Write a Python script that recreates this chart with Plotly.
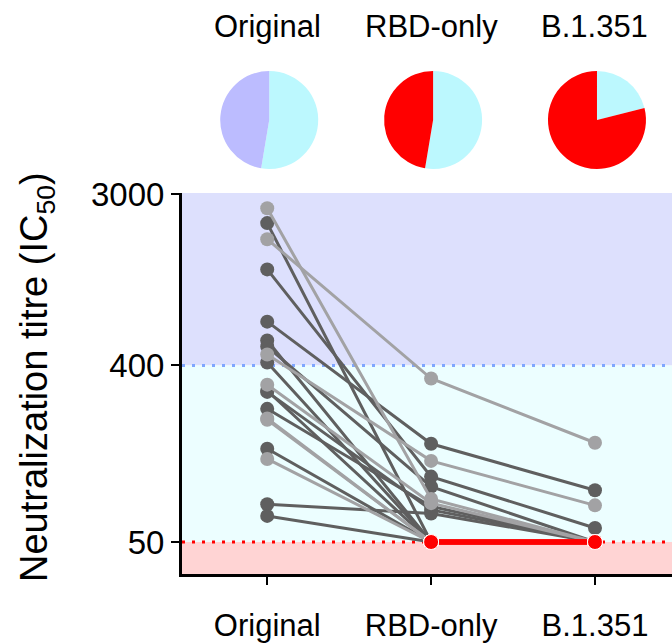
import math
import plotly.graph_objects as go

# ---------------- data ----------------
categories = ["Original", "RBD-only", "B.1.351"]
cat_pos = [0, 1, 2]

original = [2550, 2140, 1770, 1240, 670, 537, 500, 455, 414, 319, 297, 293, 240, 214, 211, 150, 133, 78, 68]
rbd_only = [83, 50, 343, 108, 159, 50, 96, 130, 50, 79, 50, 73, 76, 50, 50, 50, 50, 70, 50]
b1351 = [50, 50, 161, 59, 92, 50, 50, 77, 50, 50, 50, 50, 50, 50, 50, 50, 50, 50, 50]
shade = ["light", "dark", "light", "dark", "dark", "dark", "dark", "light", "dark", "light",
         "dark", "dark", "dark", "light", "light", "dark", "light", "dark", "dark"]

detect_limit = 50
high_cut = 400
y_ticks = [50, 400, 3000]

# ---------------- style ----------------
W, H = 672, 644
PL, PR, PT, PB = 182, 672, 193, 574
FONT = "Liberation Sans, Arial, Helvetica, sans-serif"
GREY = {"dark": "#5f5f5f", "light": "#a2a2a4"}
RED = "#ff0000"
LAV_BAND, CYAN_BAND, PINK_BAND = "#dde0fd", "#ecfeff", "#ffd4d4"
LAV_PIE, CYAN_PIE = "#bcbcff", "#bcf8fe"

x_range = [-0.52, 2.47]
y_lo, y_hi = math.log10(34.3), math.log10(3050)


def yfrac(v):
    return (math.log10(v) - y_lo) / (y_hi - y_lo)


def xpix(c):
    return PL + (c - x_range[0]) / (x_range[1] - x_range[0]) * (PR - PL)


fig = go.Figure()

series = [original, rbd_only, b1351]
n = len(original)

# grey subject lines (dark first, light on top)
for tone in ["dark", "light"]:
    for i in range(n):
        if shade[i] != tone:
            continue
        ys = [s[i] for s in series]
        fig.add_trace(go.Scatter(
            x=cat_pos, y=ys, mode="lines+markers",
            line=dict(color=GREY[tone], width=3),
            marker=dict(size=14, color=GREY[tone]),
            hoverinfo="skip", showlegend=False))

# red segments where both follow-up titres are at the detection limit
rx, ry = [], []
for i in range(n):
    for a in range(len(series) - 1):
        if series[a][i] <= detect_limit and series[a + 1][i] <= detect_limit:
            rx += [cat_pos[a], cat_pos[a + 1], None]
            ry += [series[a][i], series[a + 1][i], None]
fig.add_trace(go.Scatter(x=rx, y=ry, mode="lines", line=dict(color=RED, width=4.5),
                         hoverinfo="skip", showlegend=False))

# red markers at the detection limit
mx, my = [], []
for a, s in enumerate(series):
    for v in s:
        if v <= detect_limit:
            mx.append(cat_pos[a])
            my.append(v)
fig.add_trace(go.Scatter(x=mx, y=my, mode="markers",
                         marker=dict(size=15, color=RED, line=dict(color="white", width=1)),
                         hoverinfo="skip", showlegend=False))

# pies (share of subjects per band)
for a, s in enumerate(series):
    n_hi = sum(1 for v in s if v > high_cut)
    n_mid = sum(1 for v in s if detect_limit < v <= high_cut)
    n_lo = sum(1 for v in s if v <= detect_limit)
    cx = xpix(cat_pos[a]) + 2
    cy = 120
    r = 49
    fig.add_trace(go.Pie(
        values=[n_mid, n_hi, n_lo], labels=["mid", "high", "low"],
        marker=dict(colors=[CYAN_PIE, LAV_PIE, RED], line=dict(width=0)),
        sort=False, direction="clockwise", rotation=0,
        textinfo="none", hoverinfo="skip", showlegend=False,
        domain=dict(x=[(cx - r) / W, (cx + r) / W], y=[1 - (cy + r) / H, 1 - (cy - r) / H])))

# bands and dotted thresholds
shapes = [
    dict(type="rect", xref="x domain", yref="y domain", x0=0, x1=1, y0=yfrac(high_cut), y1=1,
         fillcolor=LAV_BAND, line=dict(width=0), layer="below"),
    dict(type="rect", xref="x domain", yref="y domain", x0=0, x1=1, y0=yfrac(detect_limit), y1=yfrac(high_cut),
         fillcolor=CYAN_BAND, line=dict(width=0), layer="below"),
    dict(type="rect", xref="x domain", yref="y domain", x0=0, x1=1, y0=0, y1=yfrac(detect_limit),
         fillcolor=PINK_BAND, line=dict(width=0), layer="below"),
    dict(type="line", xref="x domain", yref="y domain", x0=0, x1=1, y0=yfrac(high_cut), y1=yfrac(high_cut),
         line=dict(color="#7fa6ff", width=3, dash="3px,7px"), layer="below"),
    dict(type="line", xref="x domain", yref="y domain", x0=0, x1=1, y0=yfrac(detect_limit), y1=yfrac(detect_limit),
         line=dict(color=RED, width=3, dash="3px,7px"), layer="below"),
]

annotations = []
for c, lab in zip(cat_pos, categories):
    annotations.append(dict(x=c, xref="x", y=1 - 26 / H, yref="paper", text=lab, showarrow=False,
                            xanchor="center", yanchor="middle", font=dict(size=31, color="black", family=FONT)))
annotations.append(dict(x=37 / W, xref="paper", y=1 - 377 / H, yref="paper",
                        text="Neutralization titre (IC<sub>50</sub>)", textangle=-90, showarrow=False,
                        xanchor="center", yanchor="middle", font=dict(size=38, color="black", family=FONT)))

fig.update_layout(
    width=W, height=H, margin=dict(l=0, r=0, t=0, b=0, pad=0, autoexpand=False),
    paper_bgcolor="white", plot_bgcolor="white",
    font=dict(family=FONT, color="black"),
    shapes=shapes, annotations=annotations, showlegend=False,
    xaxis=dict(domain=[PL / W, PR / W], range=x_range, tickmode="array", tickvals=cat_pos,
               ticktext=categories, showgrid=False, zeroline=False, showline=True,
               linecolor="black", linewidth=3, ticks="outside", ticklen=8, tickwidth=2,
               tickcolor="black", tickfont=dict(size=31, family=FONT), ticklabelstandoff=14,
               automargin=False),
    yaxis=dict(domain=[1 - PB / H, 1 - PT / H], type="log", range=[y_lo, y_hi], tickmode="array",
               tickvals=y_ticks, ticktext=[str(t) for t in y_ticks], showgrid=False, zeroline=False,
               showline=True, linecolor="black", linewidth=3, ticks="outside", ticklen=8, tickwidth=2,
               tickcolor="black", tickfont=dict(size=33, family=FONT), automargin=False),
)

fig.write_html("out.html", config={"displayModeBar": False},
               post_script="document.body.style.margin='0';")
